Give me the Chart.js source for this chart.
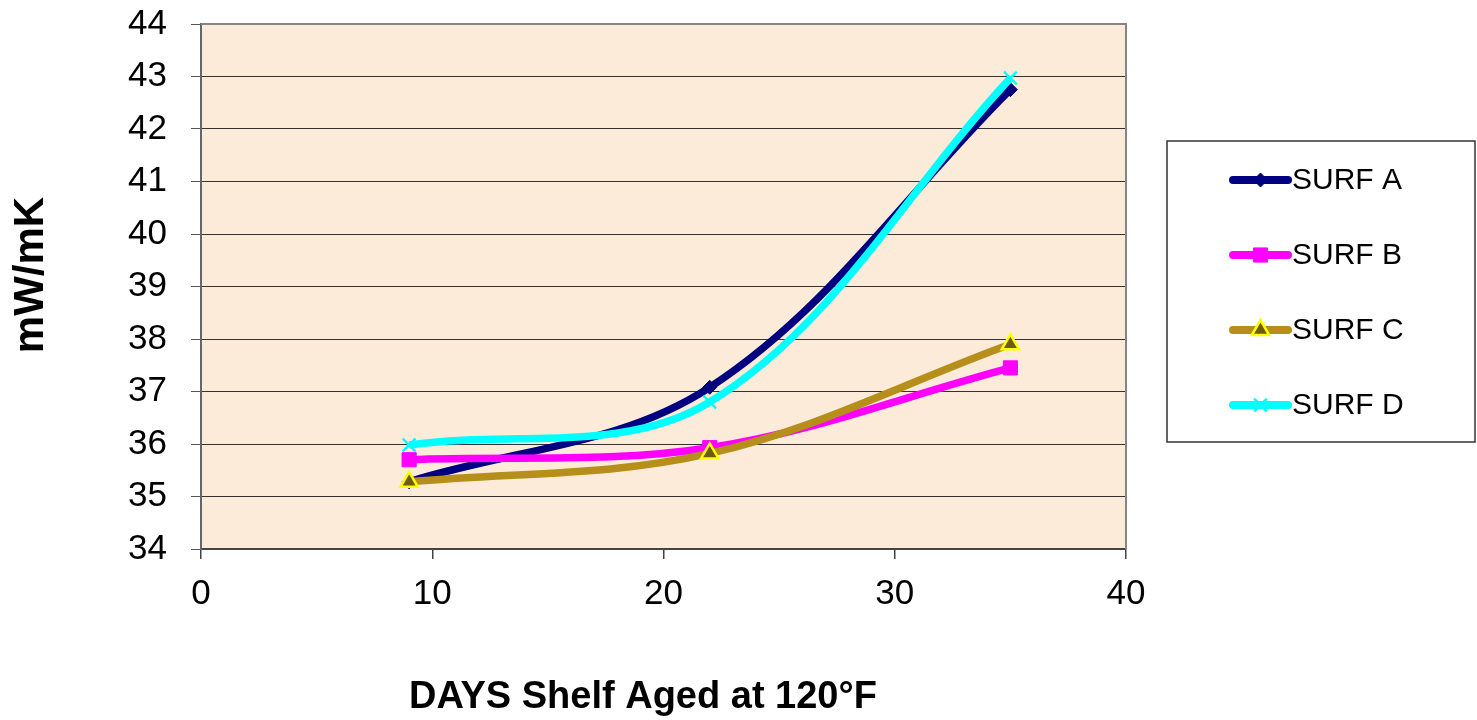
<!DOCTYPE html>
<html>
<head>
<meta charset="utf-8">
<title>SURF shelf aging</title>
<script src="https://cdn.jsdelivr.net/npm/chart.js@4/dist/chart.umd.min.js"></script>
<style>
  html, body { margin: 0; padding: 0; background: #fff; }
  canvas { display: block; }
</style>
</head>
<body>
<canvas id="chart" width="1477" height="720"></canvas>
<script>
// ─── Data ─────────────────────────────────────────────────────────────────────
const days = [9, 22, 35];
const surfA = [35.28, 37.08, 42.75];
const surfB = [35.70, 35.93, 37.45];
const surfC = [35.28, 35.82, 37.90];
const surfD = [35.98, 36.80, 42.97];
const seriesNames = ['SURF A', 'SURF B', 'SURF C', 'SURF D'];
const yTicks = [34, 35, 36, 37, 38, 39, 40, 41, 42, 43, 44];
const xTicks = [0, 10, 20, 30, 40];

const FONT = "'Liberation Sans', Arial, sans-serif";
const pts = vals => days.map((d, i) => ({ x: d, y: vals[i] }));

// plot background, top/right frame, axis titles and the boxed legend
const frame = {
  id: 'frame',
  beforeDraw(chart) {
    const { ctx, chartArea: a } = chart;
    ctx.save();
    ctx.fillStyle = '#fdebda';
    ctx.fillRect(a.left, a.top, a.right - a.left, a.bottom - a.top);
    ctx.restore();
  },
  afterDraw(chart) {
    const { ctx, chartArea: a } = chart;
    ctx.save();
    ctx.strokeStyle = '#858585';
    ctx.lineWidth = 2;
    ctx.beginPath();
    ctx.moveTo(a.left, a.top);
    ctx.lineTo(a.right, a.top);
    ctx.lineTo(a.right, a.bottom);
    ctx.stroke();

    // axis titles
    ctx.fillStyle = '#000';
    ctx.textAlign = 'center';
    ctx.textBaseline = 'middle';
    ctx.font = `bold 38px ${FONT}`;
    ctx.fillText('DAYS Shelf Aged at 120°F', a.left + 442, 698);
    ctx.save();
    ctx.translate(31, a.top + 251);
    ctx.rotate(-Math.PI / 2);
    ctx.font = `bold 42px ${FONT}`;
    ctx.fillText('mW/mK', 0, 0);
    ctx.restore();

    // legend box
    const box = { left: a.right + 41, top: 141, width: 308, height: 301 };
    ctx.strokeStyle = '#333';
    ctx.lineWidth = 1.5;
    ctx.strokeRect(box.left, box.top, box.width, box.height);
    chart.data.datasets.forEach((ds, i) => {
      const y = box.top + 39 + i * 75;
      const x0 = box.left + 66, x1 = box.left + 121;
      ctx.strokeStyle = ds.borderColor;
      ctx.lineWidth = 8;
      ctx.lineCap = 'round';
      ctx.beginPath();
      ctx.moveTo(x0, y);
      ctx.lineTo(x1, y);
      ctx.stroke();
      ctx.fillStyle = ds.pointBackgroundColor;
      ctx.strokeStyle = ds.pointBorderColor;
      ctx.lineWidth = ds.pointBorderWidth;
      ctx.lineCap = 'butt';
      Chart.helpers.drawPoint(ctx, {
        pointStyle: ds.pointStyle,
        radius: ds.pointRadius,
        borderWidth: ds.pointBorderWidth,
        rotation: 0,
      }, (x0 + x1) / 2, y);
      ctx.fillStyle = '#000';
      ctx.textAlign = 'left';
      ctx.textBaseline = 'middle';
      ctx.font = `30px ${FONT}`;
      ctx.fillText(ds.label, x1 + 4, y + 1);
    });
    ctx.restore();
  },
};

function series(label, vals, color, style, extra) {
  return Object.assign({
    label,
    data: pts(vals),
    showLine: true,
    borderColor: color,
    backgroundColor: color,
    borderWidth: 7.5,
    tension: 0.35,
    pointStyle: style,
    pointBackgroundColor: color,
    pointBorderColor: color,
    pointBorderWidth: 1,
  }, extra);
}

const chart = new Chart(document.getElementById('chart').getContext('2d'), {
  type: 'scatter',
  data: {
    datasets: [
      series(seriesNames[0], surfA, '#000080', 'rectRot', { pointRadius: 7, order: 4 }),
      series(seriesNames[1], surfB, '#ff00ff', 'rect', { pointRadius: 10, order: 3 }),
      series(seriesNames[2], surfC, '#b58f1a', 'triangle', {
        pointRadius: 10, order: 2,
        pointBackgroundColor: '#6e5a10', pointBorderColor: '#ffff00', pointBorderWidth: 2.5,
      }),
      series(seriesNames[3], surfD, '#00ffff', 'crossRot', { pointRadius: 9, pointBorderWidth: 2.5, order: 1 }),
    ],
  },
  options: {
    responsive: false,
    animation: false,
    layout: { padding: { top: 24, right: 351, left: 0, bottom: 0 } },
    plugins: { legend: { display: false }, tooltip: { enabled: false } },
    scales: {
      x: {
        type: 'linear', min: 0, max: 40,
        afterBuildTicks: s => { s.ticks = xTicks.map(v => ({ value: v })); },
        afterFit: s => { s.height = 171; s.paddingLeft = 0; s.paddingRight = 0; },
        grid: { drawOnChartArea: false, drawTicks: true, tickLength: 10, color: '#444', lineWidth: 1.5 },
        border: { color: '#444', width: 2 },
        ticks: { color: '#000', font: { family: FONT, size: 35 }, padding: 14, maxRotation: 0 },
      },
      y: {
        type: 'linear', min: 34, max: 44,
        afterBuildTicks: s => { s.ticks = yTicks.map(v => ({ value: v })); },
        afterFit: s => { s.width = 201; s.paddingTop = 0; s.paddingBottom = 0; },
        grid: { color: '#333', lineWidth: 1, tickLength: 10, tickColor: '#555' },
        border: { color: '#666', width: 2 },
        ticks: { color: '#000', font: { family: FONT, size: 35 }, padding: 24 },
      },
    },
  },
  plugins: [frame],
});
</script>
</body>
</html>
